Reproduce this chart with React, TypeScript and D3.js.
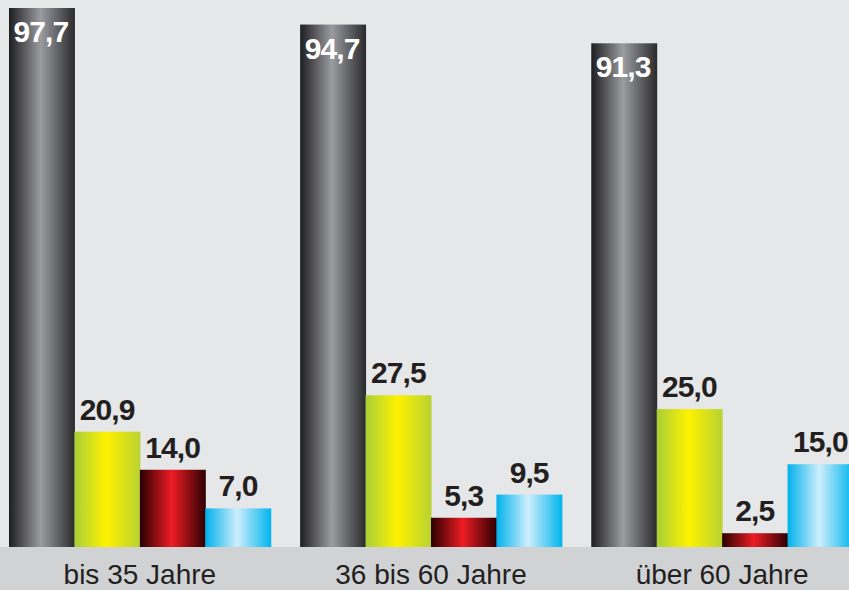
import * as React from 'react';
import * as d3 from 'd3';

const categories = ['bis 35 Jahre', '36 bis 60 Jahre', 'über 60 Jahre'];
const series = ['s1', 's2', 's3', 's4'];
const valuesS1 = [97.7, 94.7, 91.3];
const valuesS2 = [20.9, 27.5, 25.0];
const valuesS3 = [14.0, 5.3, 2.5];
const valuesS4 = [7.0, 9.5, 15.0];

const width = 849;
const height = 590;
const baseline = 547;

// gradient stops per series: edge, middle, edge
const gradients: Record<string, [string, string, string]> = {
    s1: ['#1e1d20', '#9b9ca0', '#2a2a2d'],
    s2: ['#a9cf3a', '#fff200', '#b9d232'],
    s3: ['#2a0000', '#ed1c24', '#2d0002'],
    s4: ['#00b1ec', '#cdeefc', '#00b5ee'],
};

const App: React.FC = () => {
    const allValues = [valuesS1, valuesS2, valuesS3, valuesS4];

    const x0 = d3.scaleBand<string>()
        .domain(categories)
        .range([9, 853])
        .paddingInner(0.101)
        .paddingOuter(0);

    const x1 = d3.scaleBand<string>()
        .domain(series)
        .range([0, x0.bandwidth()])
        .padding(0);

    const y = d3.scaleLinear()
        .domain([0, 97.7])
        .range([baseline, 8]);

    const fmt = (v: number) => v.toFixed(1).replace('.', ',');

    return (
        <svg width={width} height={height} style={{ position: 'absolute', left: 0, top: 0 }}
            fontFamily="'Liberation Sans', Arial, sans-serif">
            <defs>
                {series.map(s => (
                    <linearGradient key={s} id={`g-${s}`} x1="0" x2="1" y1="0" y2="0">
                        <stop offset="0%" stopColor={gradients[s][0]} />
                        <stop offset="48%" stopColor={gradients[s][1]} />
                        <stop offset="100%" stopColor={gradients[s][2]} />
                    </linearGradient>
                ))}
            </defs>
            <rect x={0} y={0} width={width} height={height} fill="#e6e7e9" />
            <rect x={0} y={baseline} width={width} height={height - baseline} fill="#d1d2d4" />
            {categories.map((c, ci) => (
                <g key={c} transform={`translate(${x0(c)},0)`}>
                    {series.map((s, si) => {
                        const v = allValues[si][ci];
                        const bx = x1(s)!;
                        const top = y(v);
                        return (
                            <g key={s}>
                                <rect x={bx} y={top} width={x1.bandwidth() + 0.5} height={baseline - top}
                                    fill={`url(#g-${s})`} />
                                {si === 0 ? (
                                    <text x={bx + 4.5} y={top + 34} fill="#ffffff" fontSize={30}
                                        fontWeight="bold" letterSpacing={-0.9}>{fmt(v)}</text>
                                ) : (
                                    <text x={bx + x1.bandwidth() / 2} y={top - 12} fill="#231f20"
                                        fontSize={30} fontWeight="bold" textAnchor="middle"
                                        letterSpacing={-0.9}>{fmt(v)}</text>
                                )}
                            </g>
                        );
                    })}
                    <text x={x0.bandwidth() / 2} y={584} textAnchor="middle" fontSize={28}
                        fill="#231f20">{c}</text>
                </g>
            ))}
        </svg>
    );
};

export default App;
